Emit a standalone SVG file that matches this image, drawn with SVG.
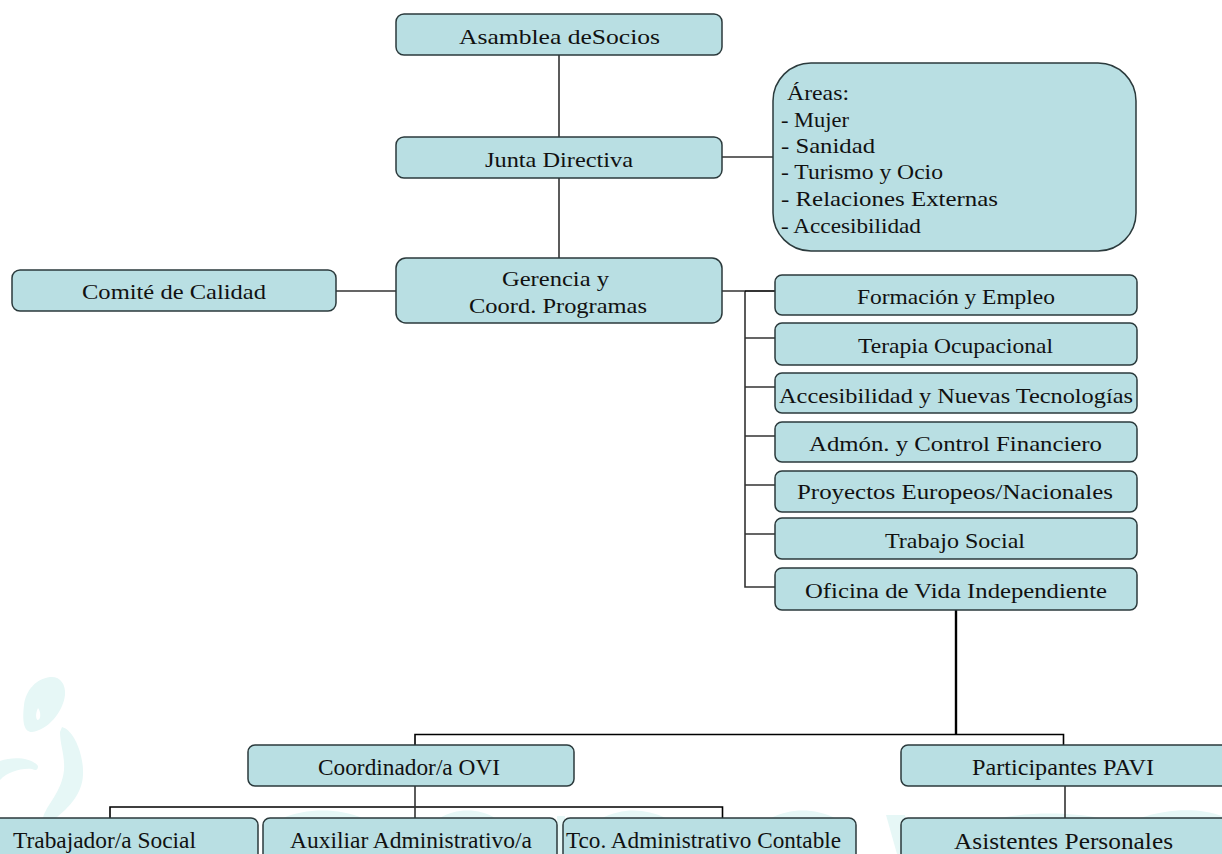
<svg xmlns="http://www.w3.org/2000/svg" width="1222" height="854" viewBox="0 0 1222 854">
<style>
.n{fill:#b9dfe3;stroke:#2b3a3c;stroke-width:1.5}
.t{font-family:"Liberation Serif","Times New Roman",serif;font-size:22px;fill:#111;text-anchor:start}
.b{font-size:23px}
.c{fill:none;stroke:#333;stroke-width:1.6}
.k{fill:none;stroke:#000;stroke-width:1.6}
.w{fill:#e6f7f6}
</style>
<rect width="1222" height="854" fill="#fff"/>
<g id="watermark">
<path class="w" fill-rule="evenodd" d="M50 677C60 676 66 684 65 695C63 712 48 730 32 732C24 732 22 722 24 705C26 690 36 679 50 677ZM38 708C35 714 36 720 38 720C41 719 41 712 38 708Z"/>
<path class="w" d="M62 727C74 730 84 755 83 775C82 795 68 808 56 818H43C46 805 62 792 64 770C65 755 60 745 60 732Z"/>
<path class="w" d="M0 761C14 756 32 758 38 766C38 770 36 771 32 769C20 768 8 772 0 780Z"/>
<path class="w" d="M283 818C305 808 340 808 362 818Z"/>
<path class="w" d="M440 818C455 808 480 808 495 818Z"/>
<rect class="w" x="478" y="816" width="14" height="3"/>
<rect class="w" x="557" y="816" width="8" height="38"/>
<path class="w" d="M602 818C622 808 645 808 666 818Z"/>
<path class="w" d="M771 818C790 808 815 808 835 818Z"/>
<path class="w" d="M886 815H905L912 854H897Z"/>
<path class="w" d="M1000 818C1030 812 1070 812 1100 818Z"/>
<path class="w" d="M1140 818C1170 808 1200 808 1222 816V854H1140Z"/>
</g>
<g id="connectors">
<path class="c" d="M559 55V258M722 157H773M336 291H396M722 291H745M745 291V587H775M745 338H775M745 387H775M745 436H775M745 485H775M745 534H775M1065 786V818"/>
<path class="k" d="M745 291H775"/>
<path class="k" style="stroke-width:2.4" d="M956 610V735"/>
<path class="k" d="M415 745V734.500H1063.500V745M110 818V807H722.500V818"/>
<path class="c" d="M415 786V818"/>
</g>
<g id="asamblea"><rect class="n" x="396" y="14" width="326" height="41" rx="8"/><text class="t" x="459" y="44" textLength="201" lengthAdjust="spacingAndGlyphs">Asamblea deSocios</text></g>
<g id="junta"><rect class="n" x="396" y="137" width="326" height="41" rx="8"/><text class="t" x="485" y="167" textLength="148" lengthAdjust="spacingAndGlyphs">Junta Directiva</text></g>
<g id="areas"><rect class="n" x="773" y="63" width="363" height="188" rx="38"/>
<text class="t" x="787" y="100" textLength="62" lengthAdjust="spacingAndGlyphs">Áreas:</text><text class="t" x="781" y="127" textLength="68" lengthAdjust="spacingAndGlyphs">- Mujer</text><text class="t" x="781" y="153" textLength="94" lengthAdjust="spacingAndGlyphs">- Sanidad</text><text class="t" x="781" y="179" textLength="162" lengthAdjust="spacingAndGlyphs">- Turismo y Ocio</text><text class="t" x="781" y="206" textLength="217" lengthAdjust="spacingAndGlyphs">- Relaciones Externas</text><text class="t" x="781" y="233" textLength="140" lengthAdjust="spacingAndGlyphs">- Accesibilidad</text></g>
<g id="calidad"><rect class="n" x="12" y="270" width="324" height="41" rx="8"/><text class="t" x="82" y="299" textLength="184" lengthAdjust="spacingAndGlyphs">Comité de Calidad</text></g>
<g id="gerencia"><rect class="n" x="396" y="258" width="326" height="65" rx="10"/><text class="t" x="502" y="286" textLength="107" lengthAdjust="spacingAndGlyphs">Gerencia y</text><text class="t" x="469" y="313" textLength="178" lengthAdjust="spacingAndGlyphs">Coord. Programas</text></g>
<g id="formacion"><rect class="n" x="775" y="275" width="362" height="40" rx="7"/><text class="t" x="857" y="304" textLength="198" lengthAdjust="spacingAndGlyphs">Formación y Empleo</text></g>
<g id="terapia"><rect class="n" x="775" y="323" width="362" height="42" rx="7"/><text class="t" x="858" y="353" textLength="195" lengthAdjust="spacingAndGlyphs">Terapia Ocupacional</text></g>
<g id="accesibilidad"><rect class="n" x="775" y="373" width="362" height="40" rx="7"/><text class="t" x="779" y="403" textLength="354" lengthAdjust="spacingAndGlyphs">Accesibilidad y Nuevas Tecnologías</text></g>
<g id="admon"><rect class="n" x="775" y="422" width="362" height="40" rx="7"/><text class="t" x="809" y="451" textLength="293" lengthAdjust="spacingAndGlyphs">Admón. y Control Financiero</text></g>
<g id="proyectos"><rect class="n" x="775" y="471" width="362" height="41" rx="7"/><text class="t" x="797" y="499" textLength="316" lengthAdjust="spacingAndGlyphs">Proyectos Europeos/Nacionales</text></g>
<g id="trabajo"><rect class="n" x="775" y="518" width="362" height="41" rx="7"/><text class="t" x="885" y="548" textLength="140" lengthAdjust="spacingAndGlyphs">Trabajo Social</text></g>
<g id="oficina"><rect class="n" x="775" y="568" width="362" height="42" rx="7"/><text class="t" x="805" y="598" textLength="302" lengthAdjust="spacingAndGlyphs">Oficina de Vida Independiente</text></g>
<g id="coordinador"><rect class="n" x="248" y="745" width="326" height="41" rx="7"/><text class="t b" x="318" y="775" textLength="182" lengthAdjust="spacingAndGlyphs">Coordinador/a OVI</text></g>
<g id="participantes"><rect class="n" x="901" y="745" width="330" height="41" rx="7"/><text class="t b" x="972" y="775" textLength="182" lengthAdjust="spacingAndGlyphs">Participantes PAVI</text></g>
<g id="trabajador"><rect class="n" x="-10" y="818" width="268" height="50" rx="7"/><text class="t b" x="13" y="848" textLength="183" lengthAdjust="spacingAndGlyphs">Trabajador/a Social</text></g>
<g id="auxiliar"><rect class="n" x="263" y="818" width="294" height="50" rx="7"/><text class="t b" x="290" y="848" textLength="242" lengthAdjust="spacingAndGlyphs">Auxiliar Administrativo/a</text></g>
<g id="tco"><rect class="n" x="563" y="818" width="293" height="50" rx="7"/><text class="t b" x="566" y="848" textLength="275" lengthAdjust="spacingAndGlyphs">Tco. Administrativo Contable</text></g>
<g id="asistentes"><rect class="n" x="901" y="818" width="330" height="50" rx="7"/><text class="t b" x="954" y="849" textLength="219" lengthAdjust="spacingAndGlyphs">Asistentes Personales</text></g>
</svg>
